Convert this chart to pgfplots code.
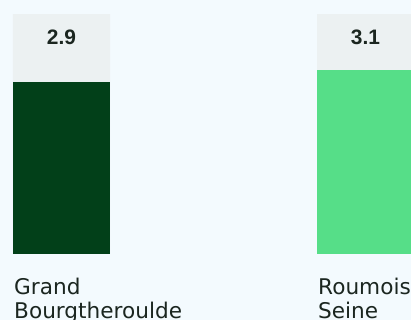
\documentclass[border=0pt]{standalone}
\usepackage{pgfplots}
\pgfplotsset{compat=1.18}
\usepackage{fontspec}
\setmainfont{DejaVu Sans}
\newfontfamily\numfont{Liberation Sans}
\definecolor{bg}{HTML}{F3FAFE}
\definecolor{track}{HTML}{ECF1F2}
\definecolor{dgreen}{HTML}{024019}
\definecolor{lgreen}{HTML}{56DE88}
\definecolor{txt}{HTML}{1B2620}
\begin{document}
\begin{tikzpicture}
\useasboundingbox (0,0) rectangle (411bp,320bp);
\clip (0,0) rectangle (411bp,320bp);
\fill[bg] (0,0) rectangle (411bp,320bp);
\begin{axis}[
  at={(0,0)}, anchor=south west,
  scale only axis, width=411bp, height=320bp,
  hide axis,
  xmin=-0.20230, xmax=1.14967,
  ymin=-1.1124, ymax=4.2811,
  ybar, bar width=97bp,
  clip=false,
]
\addplot[bar shift=0pt, fill=track, draw=none] coordinates {(0,4.045) (1,4.045)};
\addplot[bar shift=0pt, fill=dgreen, draw=none] coordinates {(0,2.9)};
\addplot[bar shift=0pt, fill=lgreen, draw=none] coordinates {(1,3.1)};
% value labels
\addplot[bar shift=0pt, draw=none, fill=none, mark=none, nodes near coords, point meta=explicit symbolic,
  every node near coord/.append style={anchor=center, text=txt,
    font=\numfont\bfseries\fontsize{21}{25}\selectfont}]
  coordinates {(0,3.66) [2.9] (1,3.66) [3.1]};
% category labels
\addplot[bar shift=0pt, draw=none, fill=none, mark=none, nodes near coords, point meta=explicit symbolic,
  every node near coord/.append style={anchor=north west, xshift=-47.5bp, align=left,
    inner sep=0pt, text=txt, font=\fontsize{21.7}{25}\selectfont}]
  coordinates {(0,-0.395) [Grand\\Bourgtheroulde] (1,-0.395) [Roumois\\Seine]};
\end{axis}
\end{tikzpicture}
\end{document}
